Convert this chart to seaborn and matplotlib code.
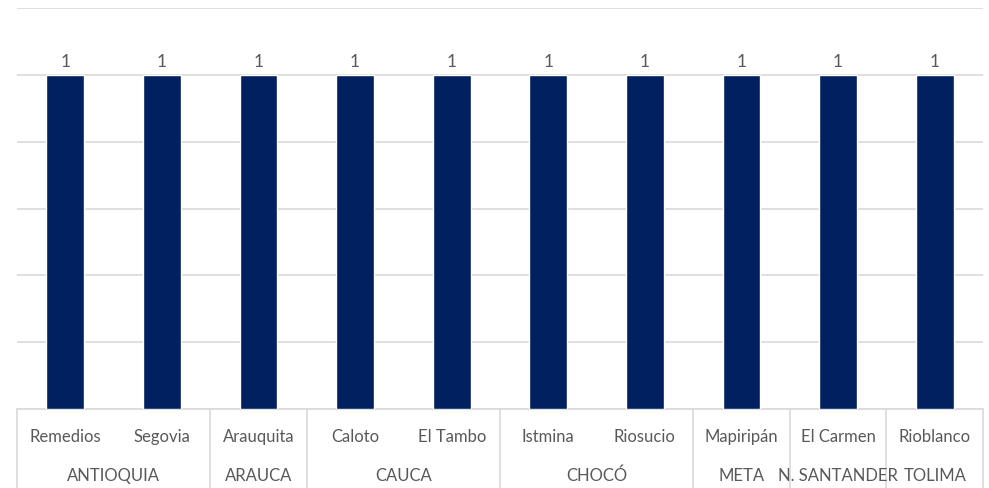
import numpy as np
import pandas as pd
import seaborn as sns
import matplotlib.pyplot as plt
from matplotlib.transforms import blended_transform_factory

municipios = ["Remedios", "Segovia", "Arauquita", "Caloto", "El Tambo",
              "Istmina", "Riosucio", "Mapiripán", "El Carmen", "Rioblanco"]
departamentos = ["ANTIOQUIA", "ANTIOQUIA", "ARAUCA", "CAUCA", "CAUCA",
                 "CHOCÓ", "CHOCÓ", "META", "N. SANTANDER", "TOLIMA"]
valores = [1, 1, 1, 1, 1, 1, 1, 1, 1, 1]

df = pd.DataFrame({"municipio": municipios, "depto": departamentos, "valor": valores})

sns.set_theme(style="white")
plt.rcParams["font.family"] = ["Lato", "DejaVu Sans"]

TXT = "#595959"
GRID = "#d9d9d9"

fig = plt.figure(figsize=(9.89, 4.88), dpi=100)
ax = fig.add_axes([17 / 989, 1 - 409 / 488, 966 / 989, 401 / 488])

sns.barplot(data=df, x="municipio", y="valor", color="#002060",
            width=0.39, saturation=1, ax=ax, zorder=3)

ax.set_ylim(0, 1.2)
ax.set_xlim(-0.5, len(municipios) - 0.5)
ax.set_yticks(np.arange(0, 1.21, 0.2))
ax.yaxis.grid(True, color=GRID, linewidth=1.2)
ax.set_axisbelow(True)
ax.tick_params(left=False, labelleft=False, bottom=False, labelbottom=False)
for s in ax.spines.values():
    s.set_visible(False)
ax.set_xlabel("")
ax.set_ylabel("")

# data labels
for i, v in enumerate(valores):
    ax.text(i, v + 0.015, f"{v}", ha="center", va="bottom",
            fontsize=12.5, color=TXT)

# two-level category axis
tr = blended_transform_factory(ax.transData, ax.transAxes)
ax_px = 401.0
y_base = 0.0
y_bot = -(488 - 409) / ax_px
ax.plot([-0.5, len(municipios) - 0.5], [0, 0], transform=tr,
        color=GRID, lw=1.2, clip_on=False)

for i, m in enumerate(municipios):
    ax.text(i, -(437 - 409) / ax_px, m, transform=tr, ha="center", va="center",
            fontsize=12, color=TXT)

# group labels and separators
grupos = []
for i, d in enumerate(departamentos):
    if grupos and grupos[-1][0] == d:
        grupos[-1][2] = i
    else:
        grupos.append([d, i, i])

bordes = [-0.5] + [g[2] + 0.5 for g in grupos]
for b in bordes:
    ax.plot([b, b], [y_base, y_bot], transform=tr, color=GRID, lw=1.2,
            clip_on=False)
for d, a, b in grupos:
    ax.text((a + b) / 2, -(476 - 409) / ax_px, d, transform=tr, ha="center",
            va="center", fontsize=12, color=TXT)

fig.savefig("out.png", dpi=100)
